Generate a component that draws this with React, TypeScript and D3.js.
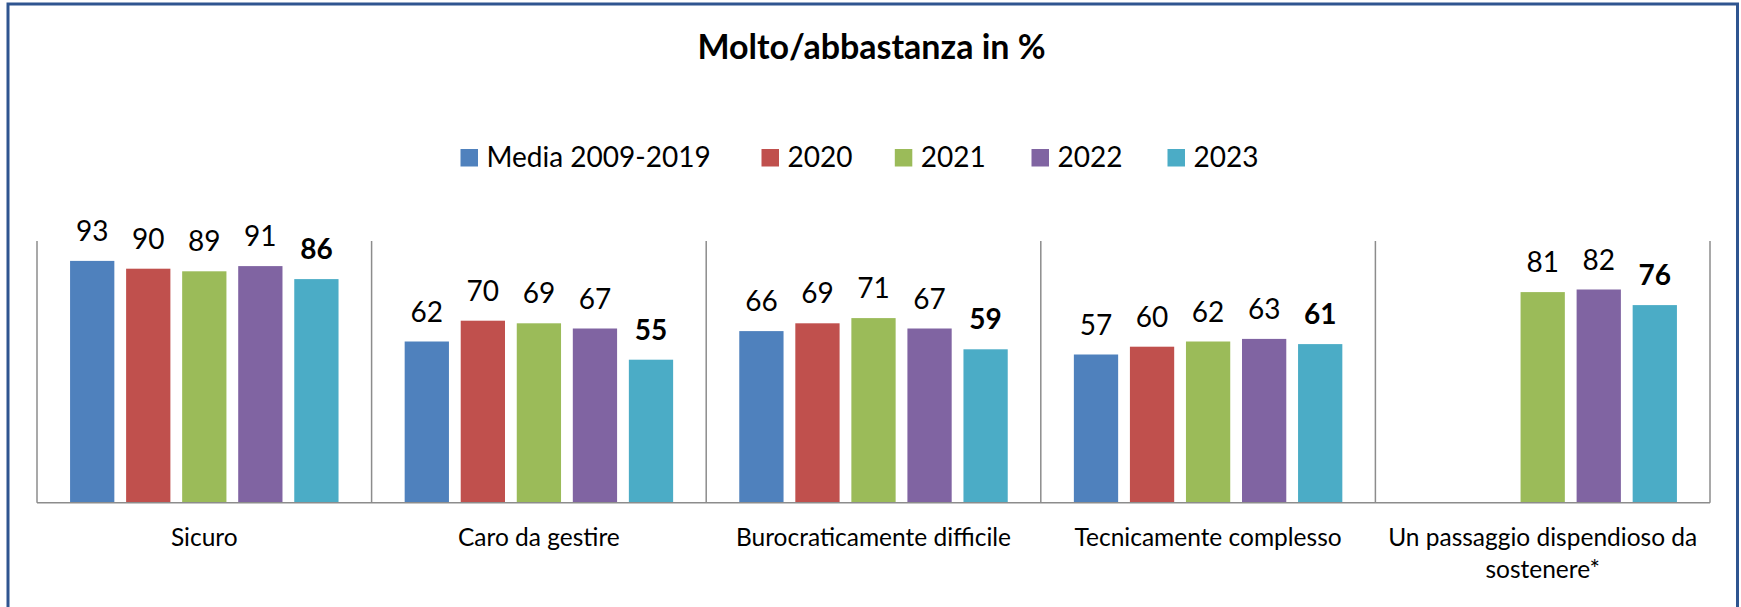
import React, { useEffect, useRef } from 'react'
import * as d3 from 'd3'

const categories = [
  'Sicuro',
  'Caro da gestire',
  'Burocraticamente difficile',
  'Tecnicamente complesso',
  'Un passaggio dispendioso da sostenere*',
]
const seriesNames = ['Media 2009-2019', '2020', '2021', '2022', '2023']
const media = [93, 62, 66, 57, null]
const y2020 = [90, 70, 69, 60, null]
const y2021 = [89, 69, 71, 62, 81]
const y2022 = [91, 67, 67, 63, 82]
const y2023 = [86, 55, 59, 61, 76]
const colors = ['#4f81bd', '#c0504d', '#9bbb59', '#8064a2', '#4bacc6']

const W = 1741
const H = 607

export default function App() {
  const svgRef = useRef<SVGSVGElement>(null)

  useEffect(() => {
    const svg = d3.select(svgRef.current)
    svg.selectAll('*').remove()
    const font = 'Lato, "Open Sans", sans-serif'

    const values = [media, y2020, y2021, y2022, y2023]
    const rows = categories.flatMap((c, ci) =>
      seriesNames.map((s, si) => ({ cat: c, series: s, si, value: values[si][ci] }))
    ).filter(d => d.value != null)

    const left = 37, right = 1710, base = 502.7
    const x0 = d3.scaleBand().domain(categories).range([left, right]).padding(0)
    const x1 = d3.scaleBand().domain(seriesNames).range([0, x0.bandwidth()])
      .paddingInner(0.21).paddingOuter(0.59)
    const y = d3.scaleLinear().domain([0, 100]).range([base, 242.7])

    // frame
    svg.append('rect')
      .attr('x', 8).attr('y', 4).attr('width', 1729.5).attr('height', 620)
      .attr('fill', '#fff').attr('stroke', '#2f5590').attr('stroke-width', 3)

    // title
    svg.append('text')
      .attr('x', 871.5).attr('y', 58.5)
      .attr('text-anchor', 'middle')
      .attr('font-family', font).attr('font-weight', 'bold').attr('font-size', 34)
      .attr('fill', '#000')
      .text('Molto/abbastanza in %')

    // legend
    const legendX = [460.5, 761.5, 894.8, 1031.5, 1167.5]
    const lg = svg.append('g')
    seriesNames.forEach((s, i) => {
      lg.append('rect')
        .attr('x', legendX[i]).attr('y', 149).attr('width', 17.5).attr('height', 17.5)
        .attr('fill', colors[i])
      lg.append('text')
        .attr('x', legendX[i] + 26).attr('y', 167)
        .attr('font-family', font).attr('font-size', 28).attr('fill', '#000')
        .text(s)
    })

    // bars
    svg.append('g').selectAll('rect').data(rows).join('rect')
      .attr('x', d => x0(d.cat)! + x1(d.series)!)
      .attr('y', d => y(d.value!))
      .attr('width', x1.bandwidth())
      .attr('height', d => base - y(d.value!))
      .attr('fill', d => colors[d.si])

    // value labels
    svg.append('g').selectAll('text').data(rows).join('text')
      .attr('x', d => x0(d.cat)! + x1(d.series)! + x1.bandwidth() / 2)
      .attr('y', d => y(d.value!) - 20)
      .attr('text-anchor', 'middle')
      .attr('font-family', font).attr('font-size', 28)
      .attr('font-weight', d => d.si === 4 ? 'bold' : 'normal')
      .attr('fill', '#000')
      .text(d => d.value!)

    // axis: baseline and category separators
    const axis = svg.append('g').attr('stroke', '#8c8c8c').attr('stroke-width', 1.5)
    axis.append('line').attr('x1', left).attr('x2', right).attr('y1', base).attr('y2', base)
    d3.range(categories.length + 1).forEach(i => {
      const xx = left + i * x0.bandwidth()
      axis.append('line').attr('x1', xx).attr('x2', xx).attr('y1', 241).attr('y2', base)
    })

    // category labels
    const wrapped = [['Sicuro'], ['Caro da gestire'], ['Burocraticamente difficile'],
      ['Tecnicamente complesso'], ['Un passaggio dispendioso da', 'sostenere*']]
    categories.forEach((c, i) => {
      const t = svg.append('text')
        .attr('x', x0(c)! + x0.bandwidth() / 2).attr('y', 545.5)
        .attr('text-anchor', 'middle')
        .attr('font-family', font).attr('font-size', 24.5).attr('fill', '#000')
      wrapped[i].forEach((line, li) => {
        t.append('tspan').attr('x', x0(c)! + x0.bandwidth() / 2).attr('dy', li === 0 ? 0 : 32).text(line)
      })
    })
  }, [])

  return (
    <div>
      <svg ref={svgRef} width={W} height={H}
        style={{ position: 'absolute', left: 0, top: 0, display: 'block', background: '#fff' }} />
    </div>
  )
}
